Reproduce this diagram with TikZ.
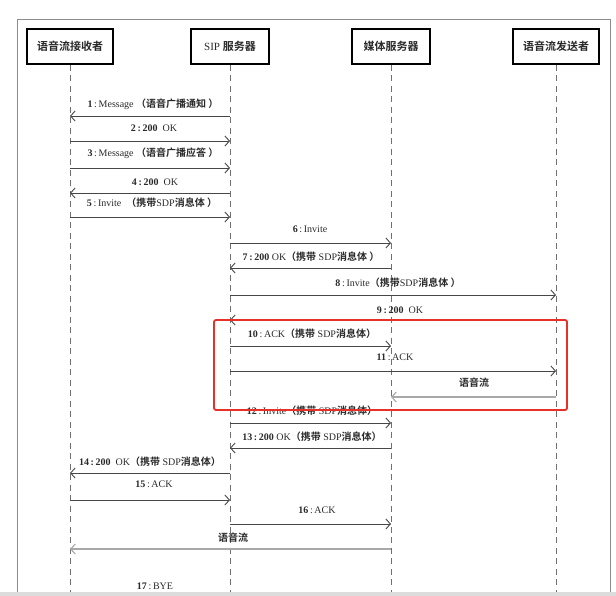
\documentclass[tikz,border=0pt]{standalone}
\usepackage{fontspec}
\setmainfont{Liberation Serif}
\newfontfamily\cjk{Noto Sans CJK SC}
\newfontfamily\cjkb{Noto Sans CJK SC Bold}
\usetikzlibrary{arrows.meta}
\definecolor{msgc}{HTML}{474747}
\definecolor{lifec}{HTML}{707070}
\definecolor{streamc}{HTML}{A8A8A8}
\definecolor{redbox}{HTML}{E8302A}
\definecolor{barc}{HTML}{DCDCDC}
\definecolor{framec}{HTML}{8C8C8C}
\definecolor{txtc}{HTML}{2A2A2A}
\tikzset{
  hdr/.style={draw=black, line width=1.3pt, fill=white, minimum height=35pt, inner sep=0pt, font=\fontsize{11}{12}\selectfont, text=txtc},
  life/.style={draw=lifec, line width=0.9pt, dash pattern=on 6pt off 4.5pt},
  msg/.style={draw=msgc, line width=0.9pt, -{Straight Barb[length=4.5pt,width=10pt,line width=0.9pt]}},
  stream/.style={draw=streamc, line width=1.1pt, -{Straight Barb[length=4.5pt,width=10pt,line width=1.1pt]}},
  lbl/.style={font=\fontsize{10}{11}\selectfont, text=txtc, inner sep=0pt},
}
\begin{document}
\begin{tikzpicture}[x=1pt,y=-1pt]
\useasboundingbox (0,0) rectangle (616,596);
\fill[white] (0,0) rectangle (616,596);
% outer frame
\draw[framec, line width=0.8pt] (17,19) -- (17,592) (17,19) -- (610,19) -- (610,592);
% headers
\node[hdr, minimum width=86pt] (rcv) at (70,46.5) {\cjkb 语音流接收者};
\node[hdr, minimum width=78pt] (sip) at (230,46.5) {SIP {\cjkb 服务器}};
\node[hdr, minimum width=78pt] (med) at (391,46.5) {\cjkb 媒体服务器};
\node[hdr, minimum width=86pt] (snd) at (556,46.5) {\cjkb 语音流发送者};
% lifelines
\coordinate (rcvE) at (70,596);
\coordinate (sipE) at (230,596);
\coordinate (medE) at (391,596);
\coordinate (sndE) at (556,596);
\draw[life] (rcv.south) -- (rcvE);
\draw[life] (sip.south) -- (sipE);
\draw[life] (med.south) -- (medE);
\draw[life] (snd.south) -- (sndE);
% messages
\draw[msg] (sip |- 0,116) -- (rcv |- 0,116);
\node[lbl] (l1) at (153,104) {\textbf{1}\,:\,Message {\cjkb （语音广播通知 ）}};
\draw[msg] (rcv |- 0,141) -- (sip |- 0,141);
\node[lbl] (l2) at (154,128) {\textbf{2\,:\,200}\ \ OK};
\draw[msg] (rcv |- 0,168) -- (sip |- 0,168);
\node[lbl] (l3) at (153,153) {\textbf{3}\,:\,Message {\cjkb （语音广播应答 ）}};
\draw[msg] (sip |- 0,193) -- (rcv |- 0,193);
\node[lbl] (l4) at (155,182) {\textbf{4\,:\,200}\ \ OK};
\draw[msg] (rcv |- 0,217) -- (sip |- 0,217);
\node[lbl] (l5) at (152,203) {\textbf{5}\,:\,Invite\ \ {\cjkb （携带}SDP{\cjkb 消息体 ）}};
\draw[msg] (sip |- 0,243) -- (med |- 0,243);
\node[lbl] (l6) at (310,229) {\textbf{6}\,:\,Invite};
\draw[msg] (med |- 0,268) -- (sip |- 0,268);
\node[lbl] (l7) at (311,257) {\textbf{7\,:\,200} OK{\cjkb （携带} SDP{\cjkb 消息体 ）}};
\draw[msg] (sip |- 0,295) -- (snd |- 0,295);
\node[lbl] (l8) at (398,283) {\textbf{8}\,:\,Invite{\cjkb （携带}SDP{\cjkb 消息体 ）}};
\draw[msg] (snd |- 0,320) -- (sip |- 0,320);
\node[lbl] (l9) at (400,310) {\textbf{9\,:\,200}\ \ OK};
\draw[msg] (sip |- 0,346) -- (med |- 0,346);
\node[lbl] (l10) at (312,334) {\textbf{10}\,:\,ACK{\cjkb （携带} SDP{\cjkb 消息体）}};
\draw[msg] (sip |- 0,371) -- (snd |- 0,371);
\node[lbl] (l11) at (395,357) {\textbf{11}\,:\,ACK};
\draw[stream] (snd |- 0,397) -- (med |- 0,397);
\node[lbl] (l11b) at (474,383) {\cjkb 语音流};
\draw[msg] (sip |- 0,423) -- (med |- 0,423);
\node[lbl] (l12) at (312,411) {\textbf{12}\,:\,Invite{\cjkb （携带} SDP{\cjkb 消息体）}};
\draw[msg] (med |- 0,448) -- (sip |- 0,448);
\node[lbl] (l13) at (312,437) {\textbf{13\,:\,200} OK{\cjkb （携带} SDP{\cjkb 消息体）}};
\draw[msg] (sip |- 0,473) -- (rcv |- 0,473);
\node[lbl] (l14) at (150,462) {\textbf{14\,:\,200}\ \ OK{\cjkb （携带} SDP{\cjkb 消息体）}};
\draw[msg] (rcv |- 0,500) -- (sip |- 0,500);
\node[lbl] (l15) at (154,484) {\textbf{15}\,:\,ACK};
\draw[msg] (sip |- 0,524) -- (med |- 0,524);
\node[lbl] (l16) at (317,510) {\textbf{16}\,:\,ACK};
\draw[stream] (med |- 0,549) -- (rcv |- 0,549);
\node[lbl] (l16b) at (233,538) {\cjkb 语音流};
\node[lbl] (l17) at (155,586) {\textbf{17}\,:\,BYE};
% red highlight
\draw[redbox, line width=1.8pt, rounded corners=2pt] (214,320) rectangle (567,410);
% bottom bar
\fill[barc] (0,592) rectangle (616,596);
\end{tikzpicture}
\end{document}
